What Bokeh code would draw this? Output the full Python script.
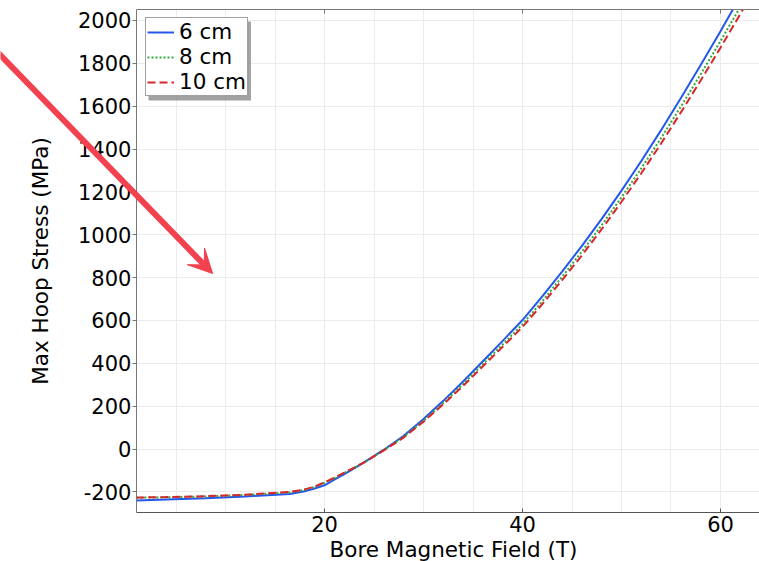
from bokeh.plotting import figure
from bokeh.models import (Range1d, LinearAxis, SingleIntervalTicker, FixedTicker, Arrow, VeeHead,
                          BoxAnnotation, Title)
from bokeh.embed import file_html
from bokeh.resources import INLINE

# ---- data ----
field_T = [1, 4, 8, 12, 16.5, 18, 19, 20, 21, 22, 23, 24, 26, 28, 30, 32, 34, 36, 38,
           40, 42, 44, 46, 48, 50, 52, 54, 56, 58, 60, 62, 64]
stress_6cm = [-240, -235, -229, -221, -210, -197, -184, -169, -143, -117, -90, -62, -3, 62, 140,
              225, 315, 410, 505, 602, 712, 828, 948, 1074, 1206, 1344, 1488, 1638, 1792,
              1950, 2112, 2278]
stress_8cm = [-227, -225, -221, -214, -202, -190, -177, -157, -136, -111, -88, -62, -5, 57, 132,
              215, 303, 396, 488, 583, 690, 804, 922, 1045, 1175, 1310, 1451, 1598, 1749,
              1904, 2063, 2225]
stress_10cm = [-226, -224, -220, -213, -200, -188, -175, -155, -134, -110, -87, -62, -6, 54, 128,
               209, 295, 386, 477, 570, 676, 788, 904, 1026, 1154, 1287, 1426, 1571, 1720,
               1873, 2030, 2191]
series_labels = ["6 cm", "8 cm", "10 cm"]
x_ticks = [20, 40, 60]
x_title = "Bore Magnetic Field (T)"
y_title = "Max Hoop Stress (MPa)"

X_FIELD_MIN, X_FIELD_MAX = 1, 63.94      # extent of the plotted field axis
X_VIEW_MIN = -12.73                      # view extends left so the arrow can be drawn
Y_MIN, Y_MAX = -296, 2051

# annotation arrow (data units)
ARROW_START = (-13.5, 1874)
ARROW_END = (8.7, 819)

FONT = "DejaVu Sans"

p = figure(width=759, height=561, output_backend="svg", toolbar_location=None,
           x_range=Range1d(X_VIEW_MIN, X_FIELD_MAX), y_range=Range1d(Y_MIN, Y_MAX),
           y_axis_location=None,
           min_border_left=0, min_border_right=0, min_border_top=9, min_border_bottom=0)
p.background_fill_color = "white"
p.border_fill_color = "white"
p.outline_line_color = None

xa = p.below[0]
xa.ticker = FixedTicker(ticks=x_ticks)
xa.bounds = (X_FIELD_MIN, X_FIELD_MAX)
xa.major_tick_in = 4
xa.major_tick_out = 0
xa.minor_tick_in = 0
xa.minor_tick_out = 0
xa.major_label_standoff = 3
xa.axis_line_color = "#555555"
xa.major_tick_line_color = "#555555"

ya = LinearAxis(fixed_location=X_FIELD_MIN, axis_label=y_title,
                ticker=SingleIntervalTicker(interval=200),
                major_label_overrides={-200: "-200"})
ya.major_tick_in = 0
ya.major_tick_out = 4
ya.minor_tick_in = 0
ya.minor_tick_out = 0
ya.major_label_standoff = 1
ya.axis_label_standoff = 22
ya.axis_line_color = "#777777"
ya.major_tick_line_color = "#777777"
p.add_layout(ya, "left")

for ax in (xa, ya):
    ax.major_label_text_font = FONT
    ax.major_label_text_font_size = "21px"
    ax.major_label_text_color = "black"
    ax.axis_label_text_font = FONT
    ax.axis_label_text_font_size = "21.5px"
    ax.axis_label_text_font_style = "normal"
    ax.axis_label_text_color = "black"

xlabel = Title(text=x_title, align="left", offset=329, standoff=0,
               text_font=FONT, text_font_size="21.5px", text_font_style="normal",
               text_color="black")
p.add_layout(xlabel, "below")

# top frame edge with inward ticks, no labels
top = LinearAxis(ticker=FixedTicker(ticks=x_ticks), bounds=(X_FIELD_MIN, X_FIELD_MAX),
                 major_tick_in=4, major_tick_out=0,
                 minor_tick_in=0, minor_tick_out=0, major_label_text_font_size="0px",
                 major_label_overrides={t: "" for t in x_ticks},
                 major_label_standoff=0, axis_line_color="#777777",
                 major_tick_line_color="#777777")
p.add_layout(top, "above")

p.xgrid.ticker = SingleIntervalTicker(interval=5)
p.xgrid.grid_line_color = "#ebebeb"
p.ygrid.ticker = SingleIntervalTicker(interval=200)
p.ygrid.grid_line_color = "#ebebeb"

# white mask left of the field axis (hides the grid where the tick labels sit)
mask = BoxAnnotation(right=X_FIELD_MIN, fill_color="white", fill_alpha=1.0,
                     line_color=None, level="underlay")
p.add_layout(mask)

# legend shadow (drawn before legend)
shadow = BoxAnnotation(left=2.22, right=12.57, top=1995, bottom=1626,
                       fill_color="#8a8a8a", fill_alpha=0.8, line_color=None)
p.add_layout(shadow)

p.line(field_T, stress_6cm, line_color="#2457ea", line_width=2, legend_label=series_labels[0])
p.line(field_T, stress_8cm, line_color="#2eaa3a", line_width=2, line_dash="2 2",
       legend_label=series_labels[1])
p.line(field_T, stress_10cm, line_color="#d8262a", line_width=2, line_dash="8 4",
       legend_label=series_labels[2])

leg = p.legend[0]
leg.location = (145, 416)
leg.margin = 0
leg.padding = 1
leg.spacing = -4
leg.label_height = 22
leg.glyph_height = 22
leg.glyph_width = 27
leg.label_standoff = 5
leg.label_text_font = FONT
leg.label_text_font_size = "21.5px"
leg.label_text_color = "black"
leg.border_line_color = "#444444"
leg.border_line_width = 1
leg.background_fill_color = "white"
leg.background_fill_alpha = 1.0

arrow = Arrow(x_start=ARROW_START[0], y_start=ARROW_START[1],
              x_end=ARROW_END[0], y_end=ARROW_END[1],
              line_color="#f2424f", line_width=6,
              end=VeeHead(size=24, fill_color="#f2424f", line_color="#f2424f", line_width=1))
p.add_layout(arrow)

open("out.html", "w").write(file_html(p, INLINE))
